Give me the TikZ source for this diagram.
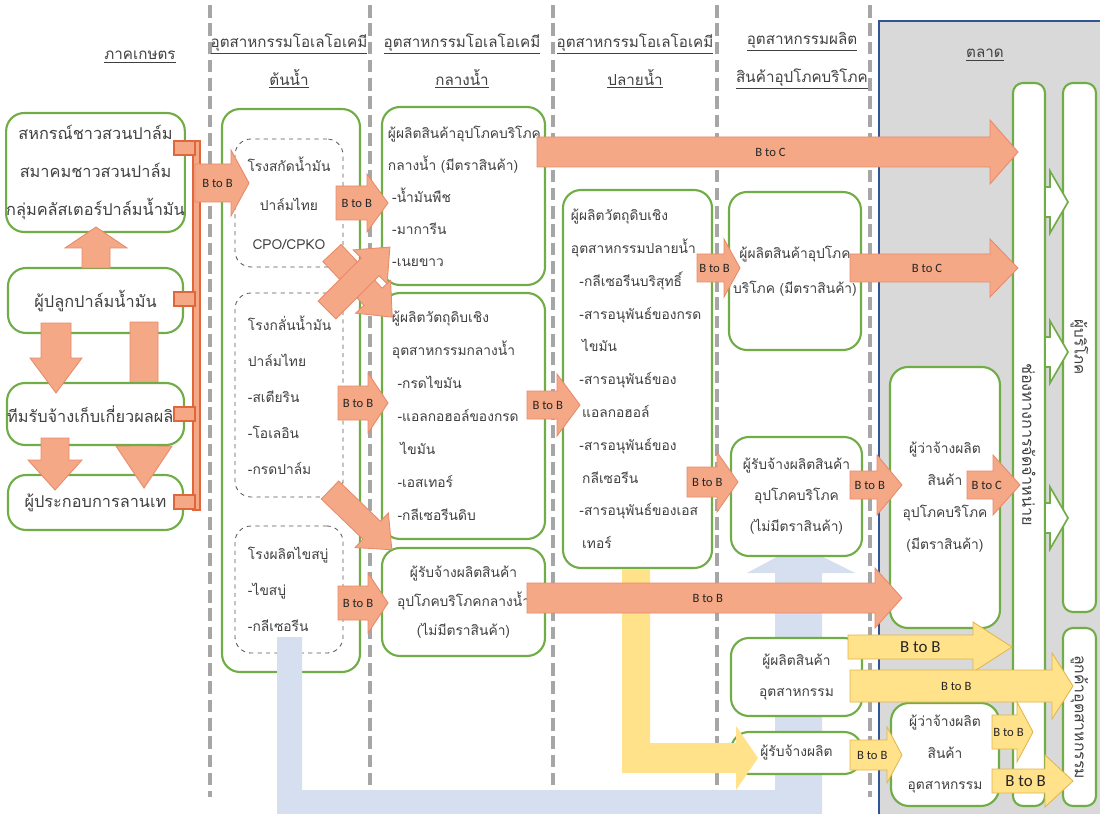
\documentclass[tikz,border=0pt]{standalone}
\usepackage{fontspec}
\setmainfont[Script=Thai]{Loma}
\newfontfamily\latinlbl{Carlito}
\exhyphenpenalty=10000
\definecolor{BoxGreen}{HTML}{70AD47}
\definecolor{FlowOrange}{HTML}{F4A886}
\definecolor{FlowOrangeEdge}{HTML}{E8896A}
\definecolor{BracketEdge}{HTML}{E0663C}
\definecolor{FlowYellow}{HTML}{FFE28A}
\definecolor{FlowYellowEdge}{HTML}{E2B64A}
\definecolor{FlowBlue}{HTML}{D5DFEF}
\definecolor{MarketFill}{HTML}{D9D9D9}
\definecolor{MarketEdge}{HTML}{2F5597}
\definecolor{DividerGray}{HTML}{A6A6A6}
\definecolor{TextGray}{HTML}{404040}

% block arrow: style, tail, angle, length, half body, half head, head length, name, label
\newcommand{\flowarrow}[9]{%
  \begin{scope}[shift={#2},rotate=#3]
    \draw[#1] (0,-#5) -- (#4-#7,-#5) -- (#4-#7,-#6) -- (#4,0) -- (#4-#7,#6) -- (#4-#7,#5) -- (0,#5) -- cycle;
    \node[flowlbl] (#8) at ({(#4-0.5*#7)/2},0) {#9};
  \end{scope}}
% same, without label
\newcommand{\plainarrow}[7]{%
  \begin{scope}[shift={#2},rotate=#3]
    \draw[#1] (0,-#5) -- (#4-#7,-#5) -- (#4-#7,-#6) -- (#4,0) -- (#4-#7,#6) -- (#4-#7,#5) -- (0,#5) -- cycle;
  \end{scope}}

\begin{document}
\begin{tikzpicture}[x=0.025cm,y=-0.025cm,
  every node/.style={text=TextGray},
  gbox/.style={draw=BoxGreen,line width=1.5pt,rounded corners=0.45cm,fill=white,inner sep=0pt,align=center},
  dbox/.style={draw=black!65,dashed,line width=0.6pt,rounded corners=0.4cm,inner sep=0pt},
  sz/.style 2 args={minimum width=#1*0.025cm,minimum height=#2*0.025cm},
  txt/.style 2 args={font=\fontsize{#1}{#2}\selectfont},
  hdr/.style={font=\fontsize{10.8}{27}\selectfont,align=center},
  flowlbl/.style={font=\latinlbl\fontsize{9}{10}\selectfont,text=black!85,inner sep=0pt},
  oarr/.style={fill=FlowOrange,draw=FlowOrangeEdge,line width=0.6pt},
  yarr/.style={fill=FlowYellow,draw=FlowYellowEdge,line width=0.6pt},
  warr/.style={fill=white,draw=BoxGreen,line width=1.2pt},
  bracket/.style={fill=FlowOrange,draw=BracketEdge,line width=0.8pt},
  divider/.style={draw=DividerGray,line width=2.6pt,dash pattern=on 9pt off 4pt}]
\useasboundingbox (0,0) rectangle (1100,814);

% market area
\draw[fill=MarketFill,draw=MarketEdge,line width=0.8pt] (879,21) rectangle (1102,816);

% column dividers
\foreach \dx in {210,370,553,717,870}
  \draw[divider] (\dx,5) -- (\dx,797);

% headings
\node[hdr] (hagri) at (140,57) {\underline{ภาคเกษตร}};
\node[hdr] (hup) at (289,61) {\underline{อุตสาหกรรมโอเลโอเคมี}\\\underline{ต้นน้ำ}};
\node[hdr] (hmid) at (462,61) {\underline{อุตสาหกรรมโอเลโอเคมี}\\\underline{กลางน้ำ}};
\node[hdr] (hdown) at (635,61) {\underline{อุตสาหกรรมโอเลโอเคมี}\\\underline{ปลายน้ำ}};
\node[hdr] (hcons) at (802,61) {\underline{อุตสาหกรรมผลิต}\\\underline{สินค้าอุปโภคบริโภค}};
\node[hdr] (hmkt) at (985,55) {\underline{ตลาด}};

% agriculture
\node[gbox,sz={175}{119},txt={11.6}{27}] (coop) at (95.5,172.5) {สหกรณ์ชาวสวนปาล์ม\\สมาคมชาวสวนปาล์ม\\กลุ่มคลัสเตอร์ปาล์มน้ำมัน};
\node[gbox,sz={175}{65},txt={11.6}{27}] (grower) at (95.5,300.5) {ผู้ปลูกปาล์มน้ำมัน};
\node[gbox,sz={175}{55},txt={11.6}{27}] (yard) at (95.5,502.5) {ผู้ประกอบการลานเท};
\plainarrow{oarr}{(144,322)}{-90}{166}{14}{28}{42}
\node[gbox,sz={175}{62},txt={11.6}{27}] (harvest) at (95.5,414) {ทีมรับจ้างเก็บเกี่ยวผลผลิต};
\plainarrow{oarr}{(96,268)}{90}{41}{14}{31}{21}
\plainarrow{oarr}{(56,323)}{-90}{70}{15}{26}{35}
\plainarrow{oarr}{(55,438)}{-90}{52}{14}{27}{30}

% collector
\draw[bracket] (193,141) rectangle (200,510);
\foreach \ty in {141,292,407,495}
  \draw[bracket] (174,\ty) rectangle (195,\ty+14);

% upstream
\node[gbox,sz={138}{563}] (upbox) at (291,390.5) {};
\node[dbox,sz={108}{128},txt={9.8}{27.7},align=center] (crush) at (289,203) {โรงสกัดน้ำมัน\\ปาล์มไทย\\CPO/CPKO};
\node[dbox,sz={108}{204},txt={9.8}{25.6},align=left,inner xsep=0.325cm,text width=2.05cm] (refine) at (289,395) {โรงกลั่นน้ำมัน\\ปาล์มไทย\\-สเตียริน\\-โอเลอิน\\-กรดปาล์ม};
\node[dbox,sz={108}{127},txt={9.8}{25.6},align=left,inner xsep=0.325cm,text width=2.05cm] (soap) at (289,589.5) {โรงผลิตไขสบู่\\-ไขสบู่\\-กลีเซอรีน};

% midstream
\node[gbox,sz={163}{178},txt={9.8}{22.8},align=left,inner xsep=0.15cm,text width=3.775cm] (midbrand) at (463.5,196) {ผู้ผลิตสินค้าอุปโภคบริโภค\\กลางน้ำ (มีตราสินค้า)\\\hspace*{3pt}-น้ำมันพืช\\\hspace*{3pt}-มาการีน\\\hspace*{3pt}-เนยขาว};
\node[gbox,sz={163}{246},txt={9.8}{23.5},align=left,inner xsep=0.25cm,text width=3.575cm] (midraw) at (463.5,416) {ผู้ผลิตวัตถุดิบเชิง\\อุตสาหกรรมกลางน้ำ\\\hspace*{4pt}-กรดไขมัน\\\hspace*{4pt}-แอลกอฮอล์ของกรด\\\hspace*{6pt}ไขมัน\\\hspace*{4pt}-เอสเทอร์\\\hspace*{4pt}-กลีเซอรีนดิบ};
\node[gbox,sz={163}{108},txt={9.8}{20.6}] (midoem) at (463.5,602) {ผู้รับจ้างผลิตสินค้า\\อุปโภคบริโภคกลางน้ำ\\(ไม่มีตราสินค้า)};

% downstream
\node[gbox,sz={149}{378},txt={9.8}{23.3},align=left,inner xsep=0.2cm,text width=3.325cm] (downraw) at (637.5,379) {ผู้ผลิตวัตถุดิบเชิง\\อุตสาหกรรมปลายน้ำ\\\hspace*{6pt}-กลีเซอรีนบริสุทธิ์\\\hspace*{6pt}-สารอนุพันธ์ของกรด\\\hspace*{8pt}ไขมัน\\\hspace*{6pt}-สารอนุพันธ์ของ\\\hspace*{8pt}แอลกอฮอล์\\\hspace*{6pt}-สารอนุพันธ์ของ\\\hspace*{8pt}กลีเซอรีน\\\hspace*{6pt}-สารอนุพันธ์ของเอส\\\hspace*{8pt}เทอร์};

% blue return flow
\fill[FlowBlue] (277,637) -- (277,814) -- (822,814) -- (822,573) -- (855,573) -- (799,545) -- (747,573) -- (775,573) -- (775,790) -- (302,790) -- (302,637) -- cycle;

% consumer goods
\node[gbox,sz={132}{158},txt={9.8}{25}] (brand) at (795,271) {ผู้ผลิตสินค้าอุปโภค\\บริโภค (มีตราสินค้า)};
\node[gbox,sz={131}{119},txt={9.8}{22}] (oem) at (796.5,496.5) {ผู้รับจ้างผลิตสินค้า\\อุปโภคบริโภค\\(ไม่มีตราสินค้า)};
\node[gbox,sz={131}{78},txt={9.8}{22}] (indprod) at (796.5,677) {ผู้ผลิตสินค้า\\อุตสาหกรรม};
\node[gbox,sz={131}{42},txt={9.8}{22}] (contract) at (796.5,753) {ผู้รับจ้างผลิต};

% market
\node[gbox,sz={110}{261},txt={9.8}{22.8}] (hirecons) at (945,497.5) {ผู้ว่าจ้างผลิต\\สินค้า\\อุปโภคบริโภค\\(มีตราสินค้า)};
\node[gbox,sz={108}{103},txt={9.8}{22.4}] (hireind) at (945,754.5) {ผู้ว่าจ้างผลิต\\สินค้า\\อุตสาหกรรม};
\node[gbox,rounded corners=0.25cm,rotate=-90,sz={723}{32},txt={11.5}{12}] (channel) at (1029,444.5) {ช่องทางการจัดจำหน่าย};
\node[gbox,rounded corners=0.25cm,rotate=-90,sz={529}{33},txt={10.8}{12}] (consumer) at (1079.5,347.5) {ผู้บริโภค};
\node[gbox,rounded corners=0.25cm,rotate=-90,sz={178}{33},txt={11.2}{12}] (indcust) at (1079.5,717) {ลูกค้าอุตสาหกรรม};

% yellow flow to contractor
\fill[FlowYellow] (622,569) -- (622,773) -- (736,773) -- (736,790) -- (758,758) -- (736,726) -- (736,743) -- (650,743) -- (650,569) -- cycle;

% orange flows
\flowarrow{oarr}{(195,183)}{0}{54}{19}{33}{18}{bb1}{B to B}
\flowarrow{oarr}{(336,203)}{0}{52}{17}{29}{21}{bb2}{B to B}
\plainarrow{oarr}{(332,253)}{-46.8}{88}{12.5}{24}{28}
\plainarrow{oarr}{(327,310)}{45}{89}{12.5}{24}{28}
\flowarrow{oarr}{(338,403)}{0}{50}{17}{30}{20}{bb3}{B to B}
\plainarrow{oarr}{(330,490)}{-44}{86}{12.5}{24}{28}
\flowarrow{oarr}{(338,603)}{0}{50}{17}{30}{20}{bb4}{B to B}
\flowarrow{oarr}{(537,152)}{0}{481}{15}{32}{28}{bc1}{B to C}
\flowarrow{oarr}{(527,405)}{0}{53}{14}{31}{23}{bb5}{B to B}
\flowarrow{oarr}{(697,268)}{0}{43}{14}{29}{16}{bb6}{B to B}
\flowarrow{oarr}{(850,268)}{0}{168}{14}{29}{28}{bc2}{B to C}
\flowarrow{oarr}{(687,482)}{0}{51}{15}{30}{21}{bb7}{B to B}
\flowarrow{oarr}{(850,485)}{0}{52}{14}{30}{25}{bb8}{B to B}
\flowarrow{oarr}{(967,485)}{0}{53}{14}{30}{27}{bc3}{B to C}
\flowarrow{oarr}{(527,598)}{0}{375}{15}{30}{27}{bb9}{B to B}

% yellow flows
\flowarrow{yarr}{(848,647)}{0}{164}{12}{25}{39}{yb1}{\fontsize{12}{13}\selectfont B to B}
\flowarrow{yarr}{(850,686)}{0}{223}{16}{33}{21}{yb2}{B to B}
\flowarrow{yarr}{(850,755)}{0}{52}{15}{28}{15}{yb3}{B to B}
\flowarrow{yarr}{(992,732)}{0}{41}{17}{30}{16}{yb4}{B to B}
\flowarrow{yarr}{(992,781)}{0}{81}{12}{26}{28}{yb5}{\fontsize{12}{13}\selectfont B to B}

% channel to consumers
\foreach \wy in {202,352,518}{
  \plainarrow{warr}{(1045,\wy)}{0}{23}{15}{31}{18}
}
\end{tikzpicture}
\end{document}
